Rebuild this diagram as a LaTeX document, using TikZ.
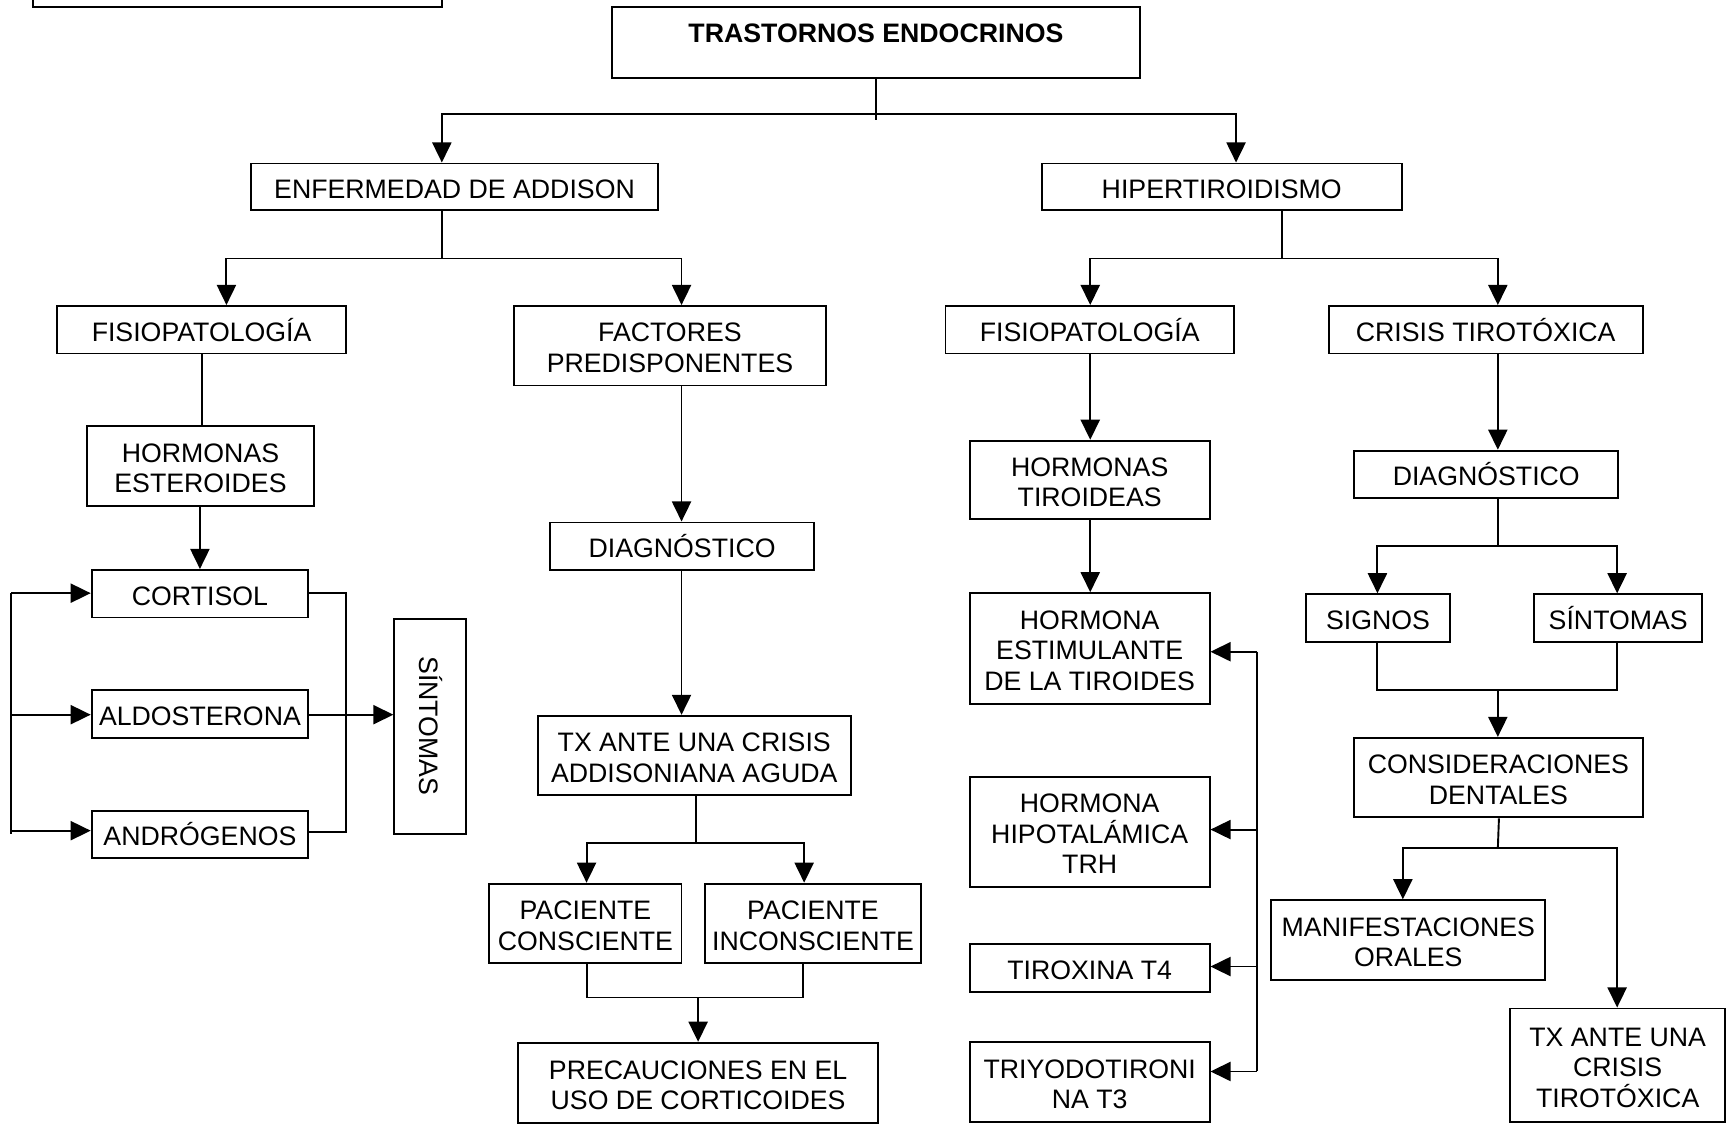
\documentclass[tikz,border=0pt]{standalone}
\usepackage{fontspec}
\setmainfont{Liberation Sans}
\usetikzlibrary{arrows.meta,fit}

\begin{document}
\begin{tikzpicture}[x=0.55pt,y=-0.55pt,
  txt/.style={font=\fontsize{13.3}{15.2}\selectfont, align=center, inner sep=0pt},
  box/.style={draw, line width=0.95pt, inner sep=0pt},
  lbl/.style={label={[txt]center:\vphantom{Í}#1}},
  wire/.style={line width=0.95pt},
  arr/.style={wire, -{Triangle[length=10pt,width=9.5pt]}},
]
\useasboundingbox (0,0) rectangle (1568,1020);
\clip (0,0) rectangle (1568,1020);

% ---------- header ----------
\node[box, fit={(30,-60) (400,6)}] (corner) {};
\node[box, fit={(554,6) (1032,71)}] (top) {};
\node[txt, font=\bfseries\fontsize{13.3}{15.2}\selectfont] (toptxt) at (793,30) {TRASTORNOS ENDOCRINOS};

\node[box, fit={(227,148) (596,190)}, lbl={ENFERMEDAD DE ADDISON}] (add) {};
\node[box, fit={(943,148) (1269,190)}, lbl={HIPERTIROIDISMO}] (hip) {};

% ---------- Addison branch ----------
\node[box, fit={(52,277) (313,320)}, lbl={FISIOPATOLOGÍA}] (fisL) {};
\node[box, fit={(465,277) (748,349)}, lbl={FACTORES\\PREDISPONENTES}] (fact) {};
\node[box, fit={(79,386) (284,458)}, lbl={HORMONAS\\ESTEROIDES}] (horE) {};
\node[box, fit={(83,516) (279,559)}, lbl={CORTISOL}] (cort) {};
\node[box, fit={(83,625) (279,668)}, lbl={ALDOSTERONA}] (ald) {};
\node[box, fit={(83,734) (279,777)}, lbl={ANDRÓGENOS}] (andr) {};
\node[box, fit={(357,560) (422,755)}] (sint) {};
\node[txt, rotate=-90] (sinttxt) at (390,657) {SÍNTOMAS};

\node[box, fit={(498,473) (737,516)}, lbl={DIAGNÓSTICO}] (diagL) {};
\node[box, fit={(487,648) (770,720)}, lbl={TX ANTE UNA CRISIS\\ADDISONIANA AGUDA}] (txA) {};
\node[box, fit={(443,800) (617,872)}, lbl={PACIENTE\\CONSCIENTE}] (pacC) {};
\node[box, fit={(638,800) (834,872)}, lbl={PACIENTE\\INCONSCIENTE}] (pacI) {};
\node[box, fit={(469,944) (795,1017)}, lbl={PRECAUCIONES EN EL\\USO DE CORTICOIDES}] (prec) {};

% ---------- Hipertiroidismo branch ----------
\node[box, fit={(856,277) (1117,320)}, lbl={FISIOPATOLOGÍA}] (fisR) {};
\node[box, fit={(1203,277) (1487,320)}, lbl={CRISIS TIROTÓXICA}] (crisis) {};
\node[box, fit={(878,399) (1095,470)}, lbl={HORMONAS\\TIROIDEAS}] (horT) {};
\node[box, fit={(878,537) (1095,637)}, lbl={HORMONA\\ESTIMULANTE\\DE LA TIROIDES}] (hest) {};
\node[box, fit={(878,703) (1095,803)}, lbl={HORMONA\\HIPOTALÁMICA\\TRH}] (hhip) {};
\node[box, fit={(878,855) (1095,898)}, lbl={TIROXINA T4}] (t4) {};
\node[box, fit={(878,943) (1095,1016)}, lbl={TRIYODOTIRONI\\NA T3}] (t3) {};

\node[box, fit={(1226,408) (1465,451)}, lbl={DIAGNÓSTICO}] (diagR) {};
\node[box, fit={(1182,538) (1313,581)}, lbl={SIGNOS}] (sig) {};
\node[box, fit={(1389,538) (1541,581)}, lbl={SÍNTOMAS}] (sin) {};
\node[box, fit={(1226,668) (1487,740)}, lbl={CONSIDERACIONES\\DENTALES}] (cons) {};
\node[box, fit={(1151,815) (1399,887)}, lbl={MANIFESTACIONES\\ORALES}] (man) {};
\node[box, fit={(1367,913) (1562,1016)}, lbl={TX ANTE UNA\\CRISIS\\TIROTÓXICA}] (txT) {};

% ---------- connectors: header ----------
\coordinate (j0) at (792,103);
\draw[wire] (top.south) -- (top.south |- 0,109);
\draw[arr] (j0) -| (add.north -| 400,0);
\draw[arr] (j0) -| (hip.north -| 1119,0);

% ---------- connectors: Addison ----------
\coordinate (j1) at (400,234);
\draw[wire] (add.south -| 400,0) -- (j1);
\draw[arr] (j1) -| (fisL.north -| 205,0);
\draw[arr] (j1) -| (fact.north -| 617,0);

\draw[wire] (fisL.south -| 183,0) -- (horE.north -| 183,0);
\draw[arr] (horE.south -| 181,0) -- (cort.north -| 181,0);

\coordinate (lbT) at (10,537);
\coordinate (lbB) at (10,755);
\draw[wire] (lbT) -- (lbB);
\draw[arr] (lbT) -- (cort.west |- lbT);
\draw[arr] (10,647) -- (ald.west |- 0,647);
\draw[arr] (10,752) -- (andr.west |- 0,752);

\draw[wire] (cort.east |- 0,537) -- (313,537) -- (313,753) -- (andr.east |- 0,753);
\draw[arr] (ald.east |- 0,647) -- (sint.west |- 0,647);

\draw[arr] (fact.south -| 617,0) -- (diagL.north -| 617,0);
\draw[arr] (diagL.south -| 617,0) -- (txA.north -| 617,0);

\coordinate (j2) at (630,763);
\draw[wire] (txA.south -| 630,0) -- (j2);
\draw[arr] (j2) -| (pacC.north -| 531,0);
\draw[arr] (j2) -| (pacI.north -| 728,0);

\coordinate (j3) at (632,903);
\draw[wire] (pacC.south -| 531,0) -- (531,903) -- (727,903) -- (pacI.south -| 727,0);
\draw[arr] (j3) -- (prec.north -| 632,0);

% ---------- connectors: Hipertiroidismo ----------
\coordinate (j4) at (1161,234);
\draw[wire] (hip.south -| 1161,0) -- (j4);
\draw[arr] (j4) -| (fisR.north -| 987,0);
\draw[arr] (j4) -| (crisis.north -| 1356,0);

\draw[arr] (fisR.south -| 987,0) -- (horT.north -| 987,0);
\draw[arr] (horT.south -| 987,0) -- (hest.north -| 987,0);

\coordinate (rbT) at (1138,590);
\coordinate (rbB) at (1138,970);
\draw[wire] (rbT) -- (rbB);
\draw[arr] (rbT) -- (hest.east |- rbT);
\draw[arr] (1138,751) -- (hhip.east |- 0,751);
\draw[arr] (1138,875) -- (t4.east |- 0,875);
\draw[arr] (rbB) -- (t3.east |- rbB);

\draw[arr] (crisis.south -| 1356,0) -- (diagR.north -| 1356,0);
\coordinate (j5) at (1356,494);
\draw[wire] (diagR.south -| 1356,0) -- (j5);
\draw[arr] (j5) -| (sig.north -| 1247,0);
\draw[arr] (j5) -| (sin.north -| 1464,0);

\coordinate (j6) at (1356,625);
\draw[wire] (sig.south -| 1247,0) -- (1247,625) -- (1464,625) -- (sin.south -| 1464,0);
\draw[arr] (j6) -- (cons.north -| 1356,0);

\coordinate (j7) at (1356,768);
\draw[wire] (cons.south -| 1357,0) -- (j7);
\draw[arr] (j7) -| (man.north -| 1270,0);
\draw[arr] (j7) -| (txT.north -| 1464,0);
\end{tikzpicture}
\end{document}
